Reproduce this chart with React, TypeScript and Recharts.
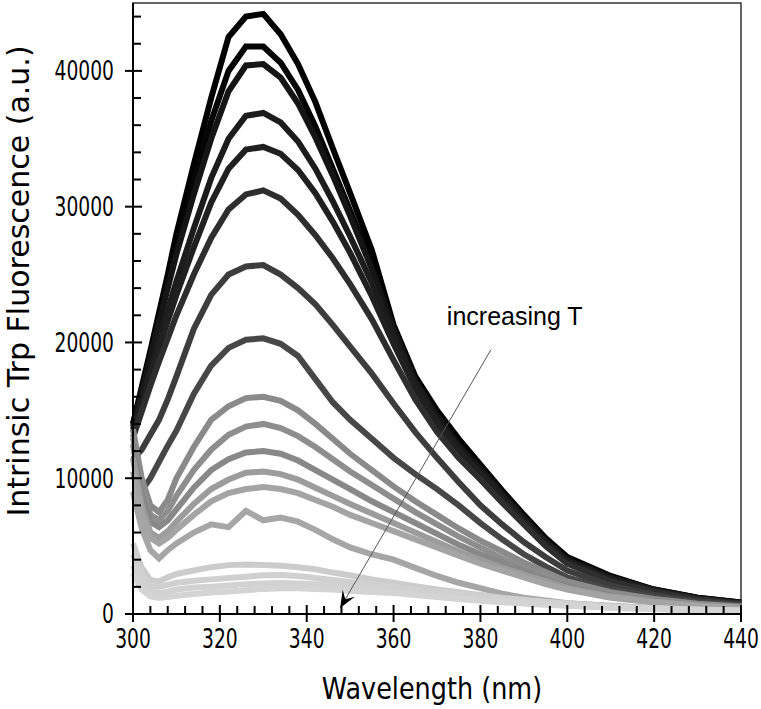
import React from "react";
import { LineChart, Line, XAxis, YAxis, ReferenceLine, ReferenceArea } from "recharts";

// emission wavelength (nm)
const WAVELENGTH = [300, 302, 304, 306, 308, 310, 314, 318, 322, 326, 330, 334, 338, 342, 346, 350, 355, 360, 365, 370, 375, 380, 385, 390, 395, 400, 410, 420, 430, 440];

// spectra, lowest temperature first
const T01 = [14000, 16700, 19400, 22200, 25000, 28000, 33100, 38000, 42500, 44000, 44200, 42700, 40500, 37700, 34300, 31000, 26800, 21300, 17500, 15000, 12900, 11000, 9100, 7300, 5600, 4200, 2800, 1800, 1200, 850];
const T02 = [14000, 16500, 19100, 21800, 24500, 27200, 31900, 36300, 40000, 41800, 41800, 40600, 38600, 35900, 32800, 29700, 25800, 21000, 17300, 14700, 12600, 10900, 9000, 7200, 5500, 4100, 2700, 1800, 1200, 840];
const T03 = [13800, 16300, 18900, 21500, 24000, 26500, 30900, 35000, 38500, 40400, 40500, 39500, 37600, 35100, 32300, 29300, 25400, 21000, 17200, 14600, 12400, 10700, 8900, 7100, 5400, 4000, 2700, 1780, 1150, 800];
const T04 = [13600, 15800, 18000, 20200, 22400, 24500, 28400, 32100, 35000, 36700, 36900, 36200, 34800, 32800, 30400, 27800, 24400, 20500, 17000, 14300, 12200, 10500, 8700, 6900, 5300, 3900, 2600, 1750, 1150, 800];
const T05 = [13400, 15500, 17600, 19600, 21600, 23500, 27000, 30300, 32800, 34200, 34400, 33900, 32700, 31000, 28900, 26600, 23400, 19900, 16600, 14000, 12000, 10300, 8500, 6800, 5200, 3800, 2500, 1700, 1100, 780];
const T06 = [13000, 14900, 16800, 18600, 20300, 22000, 25000, 27700, 29800, 30900, 31200, 30600, 29400, 27900, 26200, 24300, 21700, 18700, 15800, 13400, 11500, 9900, 8200, 6600, 5000, 3700, 2400, 1650, 1080, 760];
const T07 = [11400, 12100, 13200, 14300, 15800, 17500, 21000, 23500, 25000, 25600, 25700, 25000, 24000, 22800, 21300, 19700, 17700, 15500, 13400, 11500, 9700, 8000, 6600, 5300, 4200, 3200, 2100, 1400, 950, 680];
const T08 = [8800, 9100, 10000, 11200, 12400, 13500, 16200, 18300, 19600, 20200, 20300, 19900, 19000, 17300, 15600, 14300, 12900, 11500, 10300, 9200, 8000, 6700, 5500, 4400, 3500, 2700, 1800, 1250, 850, 620];
const T09 = [13600, 10000, 8000, 7500, 8400, 10000, 12300, 14300, 15300, 15900, 16000, 15700, 15000, 14000, 12900, 11800, 10600, 9400, 8300, 7300, 6300, 5400, 4600, 3800, 3100, 2400, 1600, 1100, 760, 550];
const T10 = [13000, 9400, 7300, 6900, 7600, 8700, 10600, 12100, 13200, 13800, 14000, 13700, 13100, 12300, 11400, 10500, 9500, 8500, 7500, 6600, 5700, 4900, 4100, 3400, 2800, 2200, 1500, 1000, 700, 500];
const T11 = [12500, 8800, 6800, 6400, 6900, 7700, 9300, 10600, 11400, 11900, 12000, 11800, 11300, 10600, 9900, 9200, 8300, 7500, 6700, 5900, 5100, 4400, 3800, 3200, 2600, 2100, 1400, 950, 650, 480];
const T12 = [11500, 8000, 6000, 5600, 6100, 6800, 8100, 9200, 9900, 10400, 10500, 10300, 9900, 9300, 8700, 8100, 7400, 6700, 6000, 5300, 4600, 4000, 3400, 2900, 2400, 1900, 1300, 900, 620, 460];
const T13 = [10500, 7400, 5600, 5200, 5600, 6200, 7300, 8300, 8900, 9200, 9350, 9200, 8900, 8400, 7900, 7300, 6700, 6100, 5500, 4900, 4300, 3700, 3200, 2700, 2200, 1800, 1200, 850, 600, 450];
const T14 = [9000, 6300, 4700, 4100, 4700, 5200, 6000, 6600, 6400, 7600, 6900, 7100, 6800, 6200, 5500, 4900, 4400, 4000, 3400, 2800, 2300, 1900, 1500, 1200, 1000, 800, 600, 450, 350, 300];
const T15 = [5200, 3400, 2500, 2400, 2700, 2950, 3200, 3450, 3600, 3650, 3600, 3550, 3450, 3300, 3050, 2850, 2550, 2300, 2050, 1800, 1600, 1400, 1200, 1050, 900, 780, 580, 430, 330, 260];
const T16 = [4400, 2900, 2050, 2000, 2150, 2300, 2450, 2550, 2650, 2750, 2850, 2870, 2800, 2650, 2500, 2360, 2200, 2000, 1800, 1650, 1500, 1300, 1150, 1000, 880, 760, 560, 420, 320, 250];
const T17 = [3600, 2300, 1650, 1550, 1650, 1800, 1950, 2000, 2100, 2200, 2250, 2280, 2250, 2200, 2140, 2050, 1900, 1650, 1500, 1350, 1200, 1050, 930, 820, 720, 630, 480, 370, 290, 230];
const T18 = [3000, 1800, 1300, 1180, 1250, 1350, 1480, 1580, 1650, 1750, 1850, 1900, 1900, 1850, 1800, 1700, 1620, 1550, 1400, 1250, 1100, 980, 870, 770, 680, 600, 460, 360, 280, 220];

const SERIES = [T01, T02, T03, T04, T05, T06, T07, T08, T09, T10, T11, T12, T13, T14, T15, T16, T17, T18];

const GREYS = [
  "#000000", "#050505", "#151515", "#1c1c1c", "#202020", "#2e2e2e",
  "#3d3d3d", "#474747", "#8a8a8a", "#8e8e8e", "#888888", "#9c9c9c",
  "#a4a4a4", "#a6a6a6", "#cccccc", "#d0d0d0", "#d2d2d2", "#d4d4d4",
];

const X_MAJOR = [300, 320, 340, 360, 380, 400, 420, 440];
const Y_MAJOR = [0, 10000, 20000, 30000, 40000];
// minor ticks every 4 nm / 2000 counts
const X_MINOR = Array.from({ length: 36 }, (_, i) => 300 + i * 4);
const Y_MINOR = Array.from({ length: 23 }, (_, i) => i * 2000);

// annotation arrow, in data units
const ARROW_FROM = { x: 382.4, y: 19450 };
const ARROW_TO = { x: 347.7, y: 440 };

const rows = WAVELENGTH.map((wl, i) => {
  const row: Record<string, number> = { wl };
  SERIES.forEach((s, k) => {
    row[`t${k + 1}`] = s[i];
  });
  return row;
});

const FONT = "'DejaVu Sans', Verdana, sans-serif";
const SQUEEZE = 0.72;

const XTick = (props: any) => {
  const { x, y, payload } = props;
  return (
    <text
      transform={`translate(${x},${y}) scale(${SQUEEZE},1)`}
      textAnchor="middle"
      dy="0.71em"
      fontFamily={FONT}
      fontSize={26}
      fill="#000"
    >
      {payload.value}
    </text>
  );
};

const YTick = (props: any) => {
  const { x, y, payload } = props;
  return (
    <text
      transform={`translate(${x},${y}) scale(${SQUEEZE},1)`}
      textAnchor="end"
      dy="0.36em"
      fontFamily={FONT}
      fontSize={26}
      fill="#000"
    >
      {payload.value}
    </text>
  );
};

// tick marks drawn at the axis end of a reference line
const xTickMark = (major: boolean) => (p: any) => {
  const base = Math.max(p.y1, p.y2);
  return (
    <line
      x1={p.x1}
      x2={p.x1}
      y1={base - (major ? 9 : 8)}
      y2={major ? base + 8 : base}
      stroke="#000"
      strokeWidth={2}
    />
  );
};

const yTickMark = (major: boolean) => (p: any) => {
  const base = Math.min(p.x1, p.x2);
  return (
    <line
      x1={major ? base - 8 : base}
      x2={base + (major ? 9 : 8)}
      y1={p.y1}
      y2={p.y1}
      stroke="#000"
      strokeWidth={2}
    />
  );
};

const ArrowShape = (props: any) => {
  const { x1, y1, x2, y2 } = props;
  const a = Math.atan2(y2 - y1, x2 - x1);
  const c = Math.cos(a);
  const s = Math.sin(a);
  const L = 17;
  const W = 7;
  const bx = x2 - L * c;
  const by = y2 - L * s;
  const ix = x2 - 0.6 * L * c;
  const iy = y2 - 0.6 * L * s;
  const pts = [
    [x2, y2],
    [bx - W * s, by + W * c],
    [ix, iy],
    [bx + W * s, by - W * c],
  ]
    .map((p) => p.join(","))
    .join(" ");
  return (
    <g>
      <line x1={x1} y1={y1} x2={ix} y2={iy} stroke="#555" strokeWidth={1} />
      <polygon points={pts} fill="#000" />
      <text
        x={x1 - 44}
        y={y1 - 25}
        fontFamily="'Liberation Sans', Arial, sans-serif"
        fontSize={25}
        fill="#000"
      >
        increasing T
      </text>
    </g>
  );
};

export default function App() {
  return (
    <div style={{ position: "absolute", left: 0, top: 0, width: 761, height: 709, background: "#fff" }}>
      <LineChart
        width={761}
        height={709}
        data={rows}
        margin={{ top: 3, right: 20, bottom: 0, left: 0 }}
      >
        <ReferenceArea
          x1={300}
          x2={440}
          y1={0}
          y2={45000}
          fill="none"
          fillOpacity={0}
          stroke="#333"
          strokeWidth={1.5}
        />
        {SERIES.map((_, k) => (
          <Line
            key={k}
            dataKey={`t${k + 1}`}
            type="linear"
            stroke={GREYS[k]}
            strokeWidth={6}
            dot={false}
            activeDot={false}
            isAnimationActive={false}
          />
        ))}
        <XAxis
          dataKey="wl"
          type="number"
          domain={[300, 440]}
          ticks={X_MAJOR}
          interval={0}
          height={95}
          tickSize={8}
          tickMargin={8}
          tickLine={false}
          stroke="#000"
          strokeWidth={2}
          tick={XTick}
        />
        <YAxis
          type="number"
          domain={[0, 45000]}
          ticks={Y_MAJOR}
          interval={0}
          width={133}
          tickSize={8}
          tickMargin={11}
          tickLine={false}
          stroke="#000"
          strokeWidth={2}
          tick={YTick}
        />
        {X_MINOR.map((v) => (
          <ReferenceLine key={`xt${v}`} x={v} shape={xTickMark(X_MAJOR.includes(v))} />
        ))}
        {Y_MINOR.map((v) => (
          <ReferenceLine key={`yt${v}`} y={v} shape={yTickMark(Y_MAJOR.includes(v))} />
        ))}
        <ReferenceLine segment={[ARROW_FROM, ARROW_TO]} shape={ArrowShape} />
      </LineChart>
      <div
        style={{
          position: "absolute",
          left: 18,
          top: 281,
          transform: "translate(-50%, -50%) rotate(-90deg)",
          whiteSpace: "nowrap",
          fontFamily: FONT,
          fontSize: 30,
          color: "#000",
        }}
      >
        Intrinsic Trp Fluorescence (a.u.)
      </div>
      <div
        style={{
          position: "absolute",
          left: 432,
          top: 688,
          transform: "translate(-50%, -50%) scaleX(0.85)",
          whiteSpace: "nowrap",
          fontFamily: FONT,
          fontSize: 30,
          color: "#000",
        }}
      >
        Wavelength (nm)
      </div>
    </div>
  );
}
